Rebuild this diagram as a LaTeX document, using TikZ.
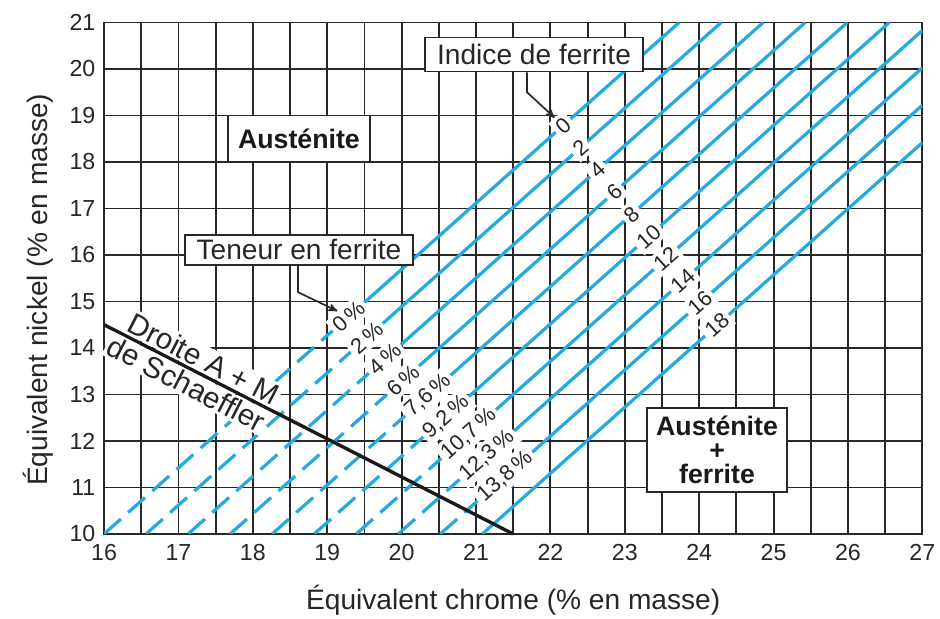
\documentclass[tikz,border=0pt]{standalone}
\usepackage{fontspec}
\setmainfont{Liberation Sans}
\setsansfont{Liberation Sans}
\usepackage{tikz}
\usetikzlibrary{arrows,positioning,backgrounds}
\definecolor{fnblue}{RGB}{35,170,225}
\definecolor{gridgray}{RGB}{40,40,40}

\begin{document}
\begin{tikzpicture}[
	x=1.86cm, y=1.1625cm,
	>=stealth',
	font=\sffamily,
	gridline/.style={draw=gridgray, line width=1.3pt},
	fnsolid/.style={draw=fnblue, line width=2.3pt},
	fndashed/.style={fnsolid, dash pattern=on 16pt off 7pt},
	ticklab/.style={
		text=black!85,
		font=\sffamily\fontsize{16.5}{19}\selectfont
	},
	legendbox/.style={
		rectangle,
		draw=gridgray,
		line width=1.3pt,
		fill=white,
		text=black!85,
		minimum height=0.85cm,
		font=\sffamily\fontsize{20}{24}\selectfont
	},
	zone/.style={
		rectangle,
		draw=gridgray,
		line width=1.3pt,
		fill=white,
		align=center,
		text=black!90,
		font=\sffamily\bfseries\fontsize{19}{17}\selectfont
	},
	pct/.style={
		anchor=west,
		rotate=41.6,
		fill=white,
		inner sep=2.5pt,
		text=black!85,
		font=\sffamily\fontsize{15.5}{18}\selectfont
	},
	fnlab/.style={pct, anchor=center},
	droite/.style={
		rotate=-27.3,
		fill=white,
		inner sep=1.5pt,
		outer sep=1.5pt,
		text=black!85,
		font=\sffamily\fontsize{21}{24}\selectfont
	}
	]
	\useasboundingbox (14.602,8.172) rectangle (27.237,21.484);
	
	% axis numbers
	\node [ticklab] (x16) at (16,9.61) {16};
	\node [ticklab] (x17) at (17,9.61) {17};
	\node [ticklab] (x18) at (18,9.61) {18};
	\node [ticklab] (x19) at (19,9.61) {19};
	\node [ticklab] (x20) at (20,9.61) {20};
	\node [ticklab] (x21) at (21,9.61) {21};
	\node [ticklab] (x22) at (22,9.61) {22};
	\node [ticklab] (x23) at (23,9.61) {23};
	\node [ticklab] (x24) at (24,9.61) {24};
	\node [ticklab] (x25) at (25,9.61) {25};
	\node [ticklab] (x26) at (26,9.61) {26};
	\node [ticklab] (x27) at (27,9.61) {27};
	
	\node [ticklab, anchor=east] (y10) at (15.95,10) {10};
	\node [ticklab, anchor=east] (y11) at (15.95,11) {11};
	\node [ticklab, anchor=east] (y12) at (15.95,12) {12};
	\node [ticklab, anchor=east] (y13) at (15.95,13) {13};
	\node [ticklab, anchor=east] (y14) at (15.95,14) {14};
	\node [ticklab, anchor=east] (y15) at (15.95,15) {15};
	\node [ticklab, anchor=east] (y16) at (15.95,16) {16};
	\node [ticklab, anchor=east] (y17) at (15.95,17) {17};
	\node [ticklab, anchor=east] (y18) at (15.95,18) {18};
	\node [ticklab, anchor=east] (y19) at (15.95,19) {19};
	\node [ticklab, anchor=east] (y20) at (15.95,20) {20};
	\node [ticklab, anchor=east] (y21) at (15.95,21) {21};
	
	\node [legendbox, draw=none, fill=none] (xtitle) at (21.5,8.58) {Équivalent chrome (\% en masse)};
	\node [legendbox, draw=none, fill=none, rotate=90] (ytitle) at (15.113,15.25) {Équivalent nickel (\% en masse)};
	
	% labels in the field
	\node [zone, minimum width=3.55cm, minimum height=1.1625cm] (aus) at (18.62,18.5) {Austénite};
	\node [zone, minimum width=3.5cm, minimum height=2.1cm] (ausfer) at (24.24,11.81) {Austénite\\+\\ferrite};
	
	\node [legendbox, minimum width=5.45cm] (ifbox) at (21.78,20.31) {Indice de ferrite};
	\node [legendbox, minimum width=5.7cm, minimum height=0.75cm] (tfbox) at (18.62,16.11) {Teneur en ferrite};
	
	\node [droite, anchor=south] (dtop) at (17.25,13.477) {Droite A + M};
	\node [droite, anchor=north] (dbot) at (17.2,13.518) {de Schaeffler};
	
	% ferrite content
	\node [pct] (p0) at (19.073,14.372) {0\,\%};
	\node [pct] (p1) at (19.316,13.915) {2\,\%};
	\node [pct] (p2) at (19.560,13.458) {4\,\%};
	\node [pct] (p3) at (19.804,13.001) {6\,\%};
	\node [pct] (p4) at (20.047,12.543) {7,6\,\%};
	\node [pct] (p5) at (20.291,12.086) {9,2\,\%};
	\node [pct] (p6) at (20.535,11.629) {10,7\,\%};
	\node [pct] (p7) at (20.779,11.172) {12,3\,\%};
	\node [pct] (p8) at (21.022,10.714) {13,8\,\%};
	
	% ferrite number
	\node [fnlab] (f0) at (22.171,18.782) {0};
	\node [fnlab] (f1) at (22.401,18.305) {2};
	\node [fnlab] (f2) at (22.631,17.827) {4};
	\node [fnlab] (f3) at (22.860,17.350) {6};
	\node [fnlab] (f4) at (23.090,16.873) {8};
	\node [fnlab] (f5) at (23.320,16.396) {10};
	\node [fnlab] (f6) at (23.549,15.918) {12};
	\node [fnlab] (f7) at (23.779,15.441) {14};
	\node [fnlab] (f8) at (24.009,14.964) {16};
	\node [fnlab] (f9) at (24.238,14.487) {18};
	
	% ends of the lines
	\coordinate (b0) at (16,10);
	\coordinate (b1) at (16.565,10);
	\coordinate (b2) at (17.13,10);
	\coordinate (b3) at (17.695,10);
	\coordinate (b4) at (18.26,10);
	\coordinate (b5) at (18.825,10);
	\coordinate (b6) at (19.39,10);
	\coordinate (b7) at (19.955,10);
	\coordinate (b8) at (20.52,10);
	\coordinate (b9) at (21.085,10);
	
	\coordinate (e0) at (23.730,21);
	\coordinate (e1) at (24.295,21);
	\coordinate (e2) at (24.860,21);
	\coordinate (e3) at (25.425,21);
	\coordinate (e4) at (25.990,21);
	\coordinate (e5) at (26.555,21);
	\coordinate (e6) at (27,20.829);
	\coordinate (e7) at (27,20.025);
	\coordinate (e8) at (27,19.221);
	\coordinate (e9) at (27,18.417);
	
	\coordinate (sa) at (16,14.5);
	\coordinate (sb) at (21.5,10);
	
	\coordinate (ifbend) at (21.686,19.5);
	\coordinate (tfbend) at (18.608,15.2);
	
	\draw [->, draw=gridgray, line width=1.2pt] (ifbox.south -| ifbend) -- (ifbend) -- (f0);
	\draw [->, draw=gridgray, line width=1.2pt] (tfbox.south -| tfbend) -- (tfbend) -- (p0);
	
	\begin{scope}[on background layer]
		\draw [gridline] (16,10) grid [xstep=0.5, ystep=1] (27,21);
		\draw [gridline] (16,10) rectangle (27,21);
		
		\begin{scope}
			\clip (16,10) rectangle (27,21);
			\draw [fndashed] (b0) -- (p0);
			\draw [fndashed] (b1) -- (p1);
			\draw [fndashed] (b2) -- (p2);
			\draw [fndashed] (b3) -- (p3);
			\draw [fndashed] (b4) -- (p4);
			\draw [fndashed] (b5) -- (p5);
			\draw [fndashed] (b6) -- (p6);
			\draw [fndashed] (b7) -- (p7);
			\draw [fndashed] (b8) -- (p8);
			
			\draw [fnsolid] (p0) -- (f0);
			\draw [fnsolid] (p1) -- (f1);
			\draw [fnsolid] (p2) -- (f2);
			\draw [fnsolid] (p3) -- (f3);
			\draw [fnsolid] (p4) -- (f4);
			\draw [fnsolid] (p5) -- (f5);
			\draw [fnsolid] (p6) -- (f6);
			\draw [fnsolid] (p7) -- (f7);
			\draw [fnsolid] (p8) -- (f8);
			\draw [fnsolid] (b9) -- (f9);
			
			\draw [fnsolid] (f0) -- (e0);
			\draw [fnsolid] (f1) -- (e1);
			\draw [fnsolid] (f2) -- (e2);
			\draw [fnsolid] (f3) -- (e3);
			\draw [fnsolid] (f4) -- (e4);
			\draw [fnsolid] (f5) -- (e5);
			\draw [fnsolid] (f6) -- (e6);
			\draw [fnsolid] (f7) -- (e7);
			\draw [fnsolid] (f8) -- (e8);
			\draw [fnsolid] (f9) -- (e9);
		\end{scope}
		
		\draw [draw=black!90, line width=2.4pt] (sa) -- (sb);
	\end{scope}
	
\end{tikzpicture}
\end{document}
